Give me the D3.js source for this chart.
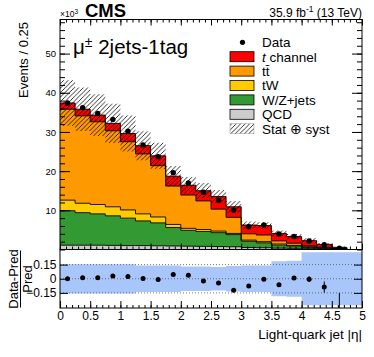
<!DOCTYPE html>
<html>
<head>
<meta charset="utf-8">
<script src="https://cdn.jsdelivr.net/npm/d3@7"></script>
<style>
  body { margin: 0; background: #fff; }
  svg { display: block; }
  text { font-family: "Liberation Sans", Arial, Helvetica, sans-serif; fill: #000; }
</style>
</head>
<body>
<div id="plot"></div>
<script>
// |eta| bins of 0.25 from 0 to 5
const binEdges = d3.range(0, 5.0001, 0.25);

// MC components, 10^3 events per bin
const qcd = [1.1, 1.1, 1.1, 1.05, 1.0, 1.0, 0.95, 0.9, 0.85, 0.8, 0.75, 0.7, 0.5, 0.45, 0.35, 0.3, 0.2, 0.15, 0.08, 0];
const wzJets = [8.8, 8.3, 8.0, 7.55, 7.0, 6.3, 5.85, 4.7, 4.05, 3.8, 3.55, 3.1, 1.6, 1.25, 0.75, 0.6, 0.35, 0.2, 0.07, 0];
const tW = [2.7, 2.4, 2.4, 2.3, 2.1, 1.8, 1.5, 0.8, 0.5, 0.5, 0.4, 0.3, 0.3, 0.3, 0.3, 0.15, 0.15, 0.07, 0.05, 0];
const ttbar = [23.2, 22.3, 21.1, 19.4, 17.4, 15.3, 13.1, 9.8, 8.5, 7.3, 5.6, 4.1, 1.6, 1.7, 0.8, 0.55, 0.27, 0.13, 0.05, 0];
const tChannel = [1.6, 1.7, 1.7, 1.9, 2.1, 2.1, 2.5, 2.5, 2.5, 2.6, 3.2, 2.7, 2.25, 2.4, 1.9, 1.7, 1.28, 0.75, 0.3, 0];

// data points (10^3 events)
const dataVals = [37.4, 36.2, 34.7, 33.2, 30.2, 26.7, 23.7, 19.6, 17.0, 14.6, 12.6, 10.0, 5.8, 6.25, 3.95, 3.3, 2.2, 1.2, 0.3, null];

// relative stat+syst uncertainty of the prediction
const relUnc = [0.155, 0.155, 0.155, 0.155, 0.155, 0.14, 0.14, 0.14, 0.13, 0.13, 0.125, 0.135, 0.14, 0.14, 0.185, 0.19, 0.28, 0.28, 0.28, 0.28];

// (Data-Pred)/Pred and its error
const ratioVals = [0.0, 0.01, 0.01, 0.028, 0.025, 0.003, -0.007, 0.045, 0.038, -0.025, -0.046, -0.123, -0.078, -0.004, -0.064, 0.007, -0.004, -0.088, -0.45, null];
const ratioErr = [0.005, 0.005, 0.005, 0.005, 0.005, 0.005, 0.005, 0.005, 0.006, 0.006, 0.007, 0.008, 0.01, 0.01, 0.015, 0.02, 0.03, 0.06, 0.3, 0];

const yTicks = [10, 20, 30, 40, 50];
const ratioTicks = [-0.15, 0, 0.15];
const xTicks = d3.range(0, 5.0001, 0.5);

const legendItems = [
  { key: "data", label: "Data" },
  { key: "tch", label: "t channel", color: "#ff0000" },
  { key: "tt", label: "tt", color: "#ff9900" },
  { key: "tw", label: "tW", color: "#ffcc00" },
  { key: "wz", label: "W/Z+jets", color: "#339933" },
  { key: "qcd", label: "QCD", color: "#cccccc" },
  { key: "unc", label: "Stat \u2295 syst" }
];

const W = 374, H = 357;
const L = 60, R = 362, yTop = 19.5, yMid = 249.5, yBot = 308;

const svg = d3.select("#plot").append("svg").attr("width", W).attr("height", H);
svg.append("rect").attr("width", W).attr("height", H).attr("fill", "#fff");

const defs = svg.append("defs");
const pat = defs.append("pattern").attr("id", "hatch").attr("patternUnits", "userSpaceOnUse")
  .attr("width", 4.5).attr("height", 4.5);
pat.append("path").attr("d", "M-1,1 l2,-2 M0,4.5 l4.5,-4.5 M3.5,5.5 l2,-2")
  .attr("stroke", "#000").attr("stroke-width", 0.8);
defs.append("clipPath").attr("id", "clipMain").append("rect")
  .attr("x", L).attr("y", yTop).attr("width", R - L).attr("height", yMid - yTop);
defs.append("clipPath").attr("id", "clipRatio").append("rect")
  .attr("x", L).attr("y", yMid).attr("width", R - L).attr("height", yBot - yMid);

const x = d3.scaleLinear().domain([0, 5]).range([L, R]);
const y = d3.scaleLinear().domain([0, 58.7]).range([yMid, yTop]);
const yr = d3.scaleLinear().domain([-0.31, 0.31]).range([yBot, yMid]);

// stack
const keys = ["qcd", "wz", "tw", "tt", "tch"];
const colors = { qcd: "#cccccc", wz: "#339933", tw: "#ffcc00", tt: "#ff9900", tch: "#ff0000" };
const rows = qcd.map((_, i) => ({ i, qcd: qcd[i], wz: wzJets[i], tw: tW[i], tt: ttbar[i], tch: tChannel[i] }));
const series = d3.stack().keys(keys)(rows);
const pred = rows.map(r => keys.reduce((s, k) => s + r[k], 0));

// step points: each bin gives its left and right edge
function stepPts(lo, hi) {
  const pts = [];
  for (let i = 0; i < lo.length; i++) {
    pts.push({ x: binEdges[i], y0: lo[i], y1: hi[i] });
    pts.push({ x: binEdges[i + 1], y0: lo[i], y1: hi[i] });
  }
  return pts;
}

const gMain = svg.append("g").attr("clip-path", "url(#clipMain)");
const area = d3.area().x(d => x(d.x)).y0(d => y(d.y0)).y1(d => y(d.y1));
const line = d3.line().x(d => x(d.x)).y(d => y(d.y1));

series.forEach(s => {
  const pts = stepPts(s.map(d => d[0]), s.map(d => d[1]));
  gMain.append("path").attr("d", area(pts)).attr("fill", colors[s.key]);
});
series.forEach(s => {
  const pts = stepPts(s.map(d => d[0]), s.map(d => d[1]));
  gMain.append("path").attr("d", line(pts)).attr("fill", "none").attr("stroke", "#000").attr("stroke-width", 0.9);
});

// hatched uncertainty band
const bandPts = stepPts(pred.map((p, i) => p * (1 - relUnc[i])), pred.map((p, i) => p * (1 + relUnc[i])))
  .filter((d, j) => pred[Math.floor(j / 2)] > 0);
gMain.append("path").attr("d", area(bandPts)).attr("fill", "url(#hatch)");

// data
const centers = binEdges.slice(0, -1).map(e => e + 0.125);
gMain.selectAll("circle.data").data(dataVals.map((v, i) => ({ v, c: centers[i] })).filter(d => d.v != null))
  .join("circle").attr("class", "data")
  .attr("cx", d => x(d.c)).attr("cy", d => y(d.v)).attr("r", 2.7).attr("fill", "#000");

// ratio panel
const gRatio = svg.append("g").attr("clip-path", "url(#clipRatio)");
const rArea = d3.area().x(d => x(d.x)).y0(d => yr(d.y0)).y1(d => yr(d.y1));
const rBand = stepPts(relUnc.map(u => -u), relUnc);
gRatio.append("path").attr("d", rArea(rBand)).attr("fill", "#a9c6fa");
ratioTicks.forEach(t => {
  gRatio.append("line").attr("x1", L).attr("x2", R).attr("y1", yr(t)).attr("y2", yr(t))
    .attr("stroke", "#555").attr("stroke-width", 0.8).attr("stroke-dasharray", "1,2");
});
const rPts = ratioVals.map((v, i) => ({ v, e: ratioErr[i], c: centers[i] })).filter(d => d.v != null);
gRatio.selectAll("line.err").data(rPts).join("line").attr("class", "err")
  .attr("x1", d => x(d.c)).attr("x2", d => x(d.c))
  .attr("y1", d => yr(d.v - d.e)).attr("y2", d => yr(d.v + d.e))
  .attr("stroke", "#000").attr("stroke-width", 1);
gRatio.selectAll("circle.rdata").data(rPts).join("circle").attr("class", "rdata")
  .attr("cx", d => x(d.c)).attr("cy", d => yr(d.v)).attr("r", 2.5).attr("fill", "#000");

// axes (ROOT style: ticks pointing inwards)
function cleanAxis(g, size) {
  g.select(".domain").remove();
  g.selectAll(".tick line").attr("stroke", "#000");
  g.selectAll("text").attr("font-size", size).attr("fill", "#000");
}
const minorY = d3.range(0, 58.7, 2);
svg.append("g").attr("transform", `translate(${L},0)`)
  .call(d3.axisLeft(y).tickValues(minorY).tickSize(-5).tickFormat(""))
  .call(g => cleanAxis(g, 0));
svg.append("g").attr("transform", `translate(${L},0)`)
  .call(d3.axisLeft(y).tickValues(yTicks).tickSize(-10).tickPadding(4).tickFormat(d3.format("d")))
  .call(g => cleanAxis(g, "9.5px"));
svg.append("g").attr("transform", `translate(${R},0)`)
  .call(d3.axisRight(y).tickValues(minorY).tickSize(-5).tickFormat(""))
  .call(g => cleanAxis(g, 0));
svg.append("g").attr("transform", `translate(${R},0)`)
  .call(d3.axisRight(y).tickValues(yTicks).tickSize(-10).tickFormat(""))
  .call(g => cleanAxis(g, 0));

const minorX = d3.range(0, 5.0001, 0.1);
[[yTop, d3.axisTop], [yMid, d3.axisBottom]].forEach(([py, ax]) => {
  svg.append("g").attr("transform", `translate(0,${py})`)
    .call(ax(x).tickValues(minorX).tickSize(-3).tickFormat(""))
    .call(g => cleanAxis(g, 0));
  svg.append("g").attr("transform", `translate(0,${py})`)
    .call(ax(x).tickValues(xTicks).tickSize(-6).tickFormat(""))
    .call(g => cleanAxis(g, 0));
});
svg.append("g").attr("transform", `translate(0,${yBot})`)
  .call(d3.axisBottom(x).tickValues(minorX).tickSize(-3).tickFormat(""))
  .call(g => cleanAxis(g, 0));
svg.append("g").attr("transform", `translate(0,${yBot})`)
  .call(d3.axisBottom(x).tickValues(xTicks).tickSize(-7).tickPadding(3.5).tickFormat(d3.format("")))
  .call(g => cleanAxis(g, "12px"));

svg.append("g").attr("transform", `translate(${L},0)`)
  .call(d3.axisLeft(yr).tickValues(ratioTicks).tickSize(-8).tickPadding(3.5).tickFormat(d => d === 0 ? "0" : d3.format(".2f")(d).replace("-", "\u2212")))
  .call(g => cleanAxis(g, "12px"));
svg.append("g").attr("transform", `translate(${R},0)`)
  .call(d3.axisRight(yr).tickValues(ratioTicks).tickSize(-8).tickFormat(""))
  .call(g => cleanAxis(g, 0));

// frames
svg.append("rect").attr("x", L).attr("y", yTop).attr("width", R - L).attr("height", yMid - yTop)
  .attr("fill", "none").attr("stroke", "#000").attr("stroke-width", 1);
svg.append("rect").attr("x", L).attr("y", yMid).attr("width", R - L).attr("height", yBot - yMid)
  .attr("fill", "none").attr("stroke", "#000").attr("stroke-width", 1);

// titles
svg.append("text").attr("transform", "translate(27.5,22) rotate(-90)").attr("text-anchor", "end")
  .attr("font-size", "13px").text("Events / 0.25");
svg.append("text").attr("x", R).attr("y", 339).attr("text-anchor", "end")
  .attr("font-size", "13.5px").text("Light-quark jet |\u03b7|");

// ratio y title as a fraction
const fr = svg.append("g").attr("transform", "translate(0,279) rotate(-90)");
fr.append("text").attr("x", 0).attr("y", 18).attr("text-anchor", "middle").attr("font-size", "13px").text("Data-Pred");
fr.append("line").attr("x1", -28.5).attr("x2", 28.5).attr("y1", 20.5).attr("y2", 20.5).attr("stroke", "#000").attr("stroke-width", 1);
fr.append("text").attr("x", 0).attr("y", 31.5).attr("text-anchor", "middle").attr("font-size", "13px").text("Pred");

// header
const exp = svg.append("text").attr("x", 60).attr("y", 17).attr("font-size", "8.5px");
exp.append("tspan").text("\u00d710");
exp.append("tspan").attr("dy", -3).attr("font-size", "6.5px").text("3");
svg.append("text").attr("x", 85).attr("y", 16.5).attr("font-size", "18.5px").attr("font-weight", "bold").text("CMS");
const lumi = svg.append("text").attr("x", R).attr("y", 16.5).attr("text-anchor", "end").attr("font-size", "12px");
lumi.append("tspan").text("35.9 fb");
lumi.append("tspan").attr("dy", -4.5).attr("font-size", "8.5px").text("-1");
lumi.append("tspan").attr("dy", 4.5).text(" (13 TeV)");

const chan = svg.append("text").attr("x", 73).attr("y", 54).attr("font-size", "20.5px");
chan.append("tspan").text("\u03bc");
chan.append("tspan").attr("dy", -7.5).attr("font-size", "14px").text("\u00b1");
chan.append("tspan").attr("dy", 7.5).text(" 2jets-1tag");

// legend
const lg = svg.append("g");
const rowY = i => 42.3 + i * 14.4;
legendItems.forEach((it, i) => {
  const cy = rowY(i);
  if (it.key === "data") {
    lg.append("circle").attr("cx", 242.5).attr("cy", cy).attr("r", 2.6).attr("fill", "#000");
  } else if (it.key === "unc") {
    lg.append("rect").attr("x", 230).attr("y", cy - 5).attr("width", 24).attr("height", 10)
      .attr("fill", "url(#hatch)").attr("stroke", "#999").attr("stroke-width", 0.5);
  } else {
    lg.append("rect").attr("x", 230).attr("y", cy - 5).attr("width", 24).attr("height", 10)
      .attr("fill", it.color).attr("stroke", "#000").attr("stroke-width", 0.8);
  }
  const t = lg.append("text").attr("x", 262).attr("y", cy + 4.8).attr("font-size", "13.5px");
  if (it.key === "tch") {
    t.append("tspan").attr("font-style", "italic").text("t");
    t.append("tspan").text(" channel");
  } else if (it.key === "tt") {
    t.append("tspan").text("t");
    t.append("tspan").text("t\u0304");
  } else {
    t.text(it.label);
  }
});
</script>
</body>
</html>
